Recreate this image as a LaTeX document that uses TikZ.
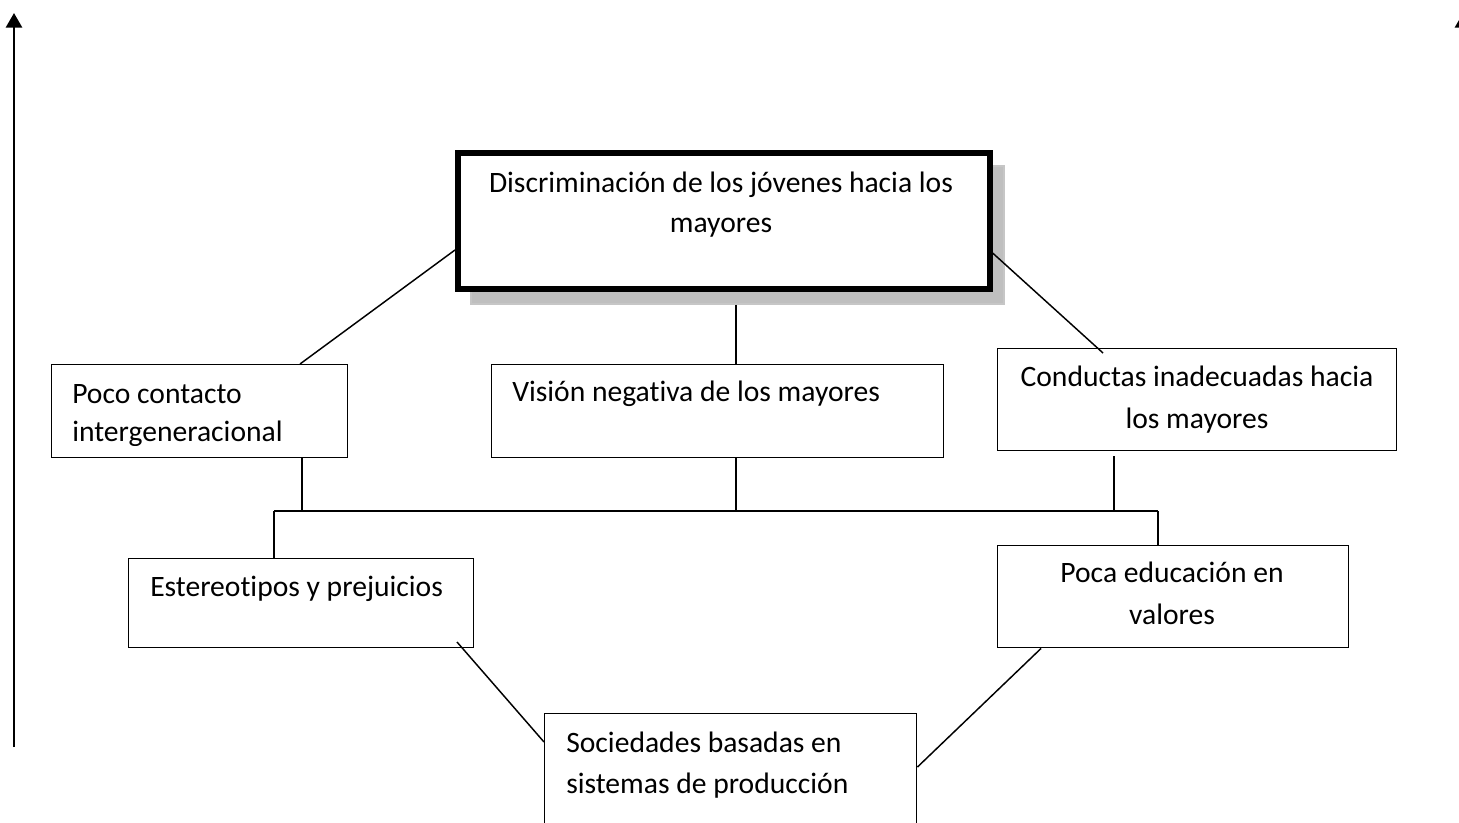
\documentclass[tikz,border=0pt]{standalone}
\usepackage{fontspec}
\setmainfont[Ligatures=NoCommon]{Carlito}
\usetikzlibrary{arrows.meta,calc}
\begin{document}
\begin{tikzpicture}[x=0.75pt,y=-0.75pt,
  box/.style={draw=black,line width=1.1pt,rectangle,inner sep=0pt,anchor=north west},
  lbl/.style={inner sep=0pt,font=\fontsize{22.2}{30}\selectfont},
  conn/.style={draw=black,line width=1.1pt},
  axis/.style={draw=black,line width=2.2pt,-{Triangle[width=12pt,length=11pt]}}]
\useasboundingbox (0,0) rectangle (1459,823);
\clip (0,0) rectangle (1459,823);
% axes
\coordinate (la0) at (14,747);
\coordinate (la1) at (14,13);
\draw[axis] (la0) -- (la1);
\coordinate (ra0) at (1463,747);
\coordinate (ra1) at (1463,13);
\draw[axis] (ra0) -- (ra1);
% main box with shadow
\node[box,draw=gray!45,line width=1.5pt,fill=black!25,minimum width=533*0.75pt,minimum height=138*0.75pt] (shadow) at (470,165) {};
\node[box,line width=4.2pt,fill=white,minimum width=532*0.75pt,minimum height=136*0.75pt] (main) at (455,150) {};
\node[lbl,anchor=base] (tmain1) at (721,193) {Discriminación de los jóvenes hacia los};
\node[lbl,anchor=base] (tmain2) at (721,233) {mayores};
% row 2
\node[box,minimum width=296*0.75pt,minimum height=93*0.75pt] (poco) at (51,364) {};
\begin{scope}
\clip (51,364) rectangle (347,445);
\node[lbl,anchor=base west] (tpoco1) at (72,403) {Poco contacto};
\node[lbl,anchor=base west] (tpoco2) at (72,441) {intergeneracional};
\end{scope}
\node[box,minimum width=452*0.75pt,minimum height=93*0.75pt] (vision) at (491,364) {};
\node[lbl,anchor=base west] (tvision) at (512,402) {Visión negativa de los mayores};
\node[box,minimum width=399*0.75pt,minimum height=102*0.75pt] (cond) at (997,348) {};
\node[lbl,anchor=base] (tcond1) at (1197,386) {Conductas inadecuadas hacia};
\node[lbl,anchor=base] (tcond2) at (1197,428) {los mayores};
% row 3
\node[box,minimum width=345*0.75pt,minimum height=89*0.75pt] (este) at (128,558) {};
\node[lbl,anchor=base west] (teste) at (150,596) {Estereotipos y prejuicios};
\node[box,minimum width=351*0.75pt,minimum height=102*0.75pt] (poca) at (997,545) {};
\node[lbl,anchor=base] (tpoca1) at (1172,582) {Poca educación en};
\node[lbl,anchor=base] (tpoca2) at (1172,624) {valores};
% bottom
\node[box,minimum width=372*0.75pt,minimum height=130*0.75pt] (soc) at (544,713) {};
\node[lbl,anchor=base west] (tsoc1) at (566,752) {Sociedades basadas en};
\node[lbl,anchor=base west] (tsoc2) at (566,793) {sistemas de producción};
% connectors
\coordinate (b1) at (302,511);
\coordinate (b2) at (736,511);
\coordinate (b3) at (1114,511);
\coordinate (bl) at (274,511);
\coordinate (br) at (1158,511);
\draw[conn] (main.west |- 0,250) -- (poco.north west -| 300,0);
\draw[conn] (shadow.south -| 736,0) -- (vision.north -| 736,0);
\draw[conn] (main.east |- 0,253) -- (1103,353);
\draw[conn] (poco.south -| 302,0) -- (b1);
\draw[conn] (vision.south -| 736,0) -- (b2);
\draw[conn] (1114,456) -- (b3);
\draw[conn] (bl) -- (br);
\draw[conn] (bl) -- (este.north -| bl);
\draw[conn] (br) -- (poca.north -| br);
\draw[conn] (457,642) -- (soc.north west |- 0,742);
\draw[conn] (poca.south west -| 1041,0) -- (soc.north east |- 0,767);
\end{tikzpicture}
\end{document}
